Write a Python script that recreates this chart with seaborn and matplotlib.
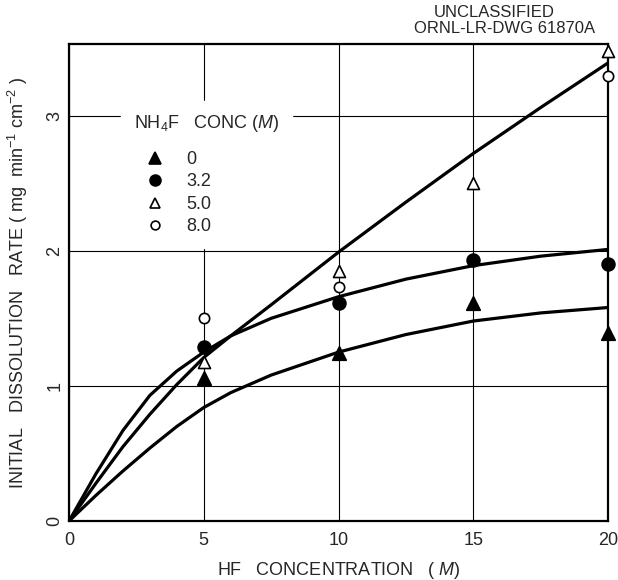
import numpy as np
import pandas as pd
import seaborn as sns
import matplotlib
matplotlib.use('Agg')
import matplotlib.pyplot as plt
from matplotlib.lines import Line2D


# fitted curves
curve_x = [0, 1, 2, 3, 4, 5, 6, 7.5, 10, 12.5, 15, 17.5, 20]
curve_0 = [0, 0.19, 0.37, 0.54, 0.70, 0.84, 0.95, 1.08, 1.25, 1.38, 1.48, 1.54, 1.58]
curve_32 = [0, 0.35, 0.67, 0.93, 1.11, 1.25, 1.37, 1.50, 1.66, 1.79, 1.89, 1.96, 2.01]
curve_high = [0, 0.28, 0.55, 0.79, 1.01, 1.21, 1.37, 1.60, 1.99, 2.36, 2.72, 3.06, 3.39]

# measured points, by NH4F concentration
pts_x = [5, 10, 15, 20]
pts_0 = [1.06, 1.24, 1.61, 1.39]
pts_32 = [1.29, 1.61, 1.93, 1.90]
pts_50 = [1.18, 1.85, 2.50, 3.48]
pts_80_x = [5, 10, 20]
pts_80 = [1.50, 1.73, 3.29]

nh4f_labels = ['0', '3.2', '5.0', '8.0']
x_ticks = [0, 5, 10, 15, 20]
x_ticklabels = ['0', '5', '10', '15', '20']
y_ticks = [0, 1, 2, 3]

sns.set_theme(style='white')
plt.rcParams['font.family'] = ['Liberation Sans', 'DejaVu Sans']
plt.rcParams['mathtext.fontset'] = 'custom'
plt.rcParams['mathtext.rm'] = 'Liberation Sans'
plt.rcParams['mathtext.it'] = 'Liberation Sans:italic'

fig = plt.figure(figsize=(6.18, 5.80), dpi=100)
ax = fig.add_axes([0.1117, 0.1017, 0.8722, 0.8224])

n = len(curve_x)
curves = pd.DataFrame({'x': curve_x * 3,
                       'y': curve_0 + curve_32 + curve_high,
                       'curve': ['a'] * n + ['b'] * n + ['c'] * n})
sns.lineplot(data=curves, x='x', y='y', units='curve', estimator=None,
             color='black', lw=2.3, ax=ax, zorder=3)

# marker styles for each series
styles = [('^', 'black', 95), ('o', 'black', 85), ('^', 'white', 75), ('o', 'white', 55)]
series = [(pts_x, pts_0), (pts_x, pts_32), (pts_x, pts_50), (pts_80_x, pts_80)]
handles = []
for (xs, ys), (m, fc, s), lab in zip(series, styles, nh4f_labels):
    sns.scatterplot(x=xs, y=ys, marker=m, s=s, color=fc, edgecolor='black',
                    linewidth=1.2, ax=ax, zorder=4, clip_on=False)
    handles.append(Line2D([], [], ls='none', marker=m, markersize=np.sqrt(s) * 0.85,
                          markerfacecolor=fc, markeredgecolor='black',
                          markeredgewidth=1.2, label=lab))

ax.set_xlim(0, 20)
ax.set_ylim(0, 3.53)
ax.set_xticks(x_ticks)
ax.set_xticklabels(x_ticklabels)
ax.set_yticks(y_ticks)
ax.grid(True, color='black', lw=0.8)
ax.set_axisbelow(True)
ax.tick_params(length=0, labelsize=13)
ax.tick_params(axis='x', pad=8)
ax.tick_params(axis='y', pad=4)
for lbl in ax.get_yticklabels():
    lbl.set_rotation(90)
    lbl.set_va('center')
for sp in ax.spines.values():
    sp.set_color('black')
    sp.set_linewidth(1.6)

ax.set_xlabel(r'HF   CONCENTRATION   ( $\it{M}$)', fontsize=13, labelpad=8)
ax.set_ylabel(r'INITIAL   DISSOLUTION   RATE ( mg  min$^{-1}$ cm$^{-2}$ )',
              fontsize=13, labelpad=12)

leg = ax.legend(handles=handles, title=r'NH$_4$F   CONC ($\it{M}$)',
                loc='upper left', bbox_to_anchor=(0.08, 0.9),
                frameon=True, fancybox=False, edgecolor='white',
                facecolor='white', framealpha=1, fontsize=13,
                title_fontsize=13, handletextpad=0.5, labelspacing=0.3,
                borderpad=0.7, handlelength=2.4)
leg._legend_box.align = 'left'
leg._legend_box.sep = 12
leg.set_zorder(5)

fig.text(0.80, 0.970, 'UNCLASSIFIED', ha='center', fontsize=12)
fig.text(0.817, 0.943, 'ORNL-LR-DWG 61870A', ha='center', fontsize=12)

fig.savefig('out.png', dpi=100)
